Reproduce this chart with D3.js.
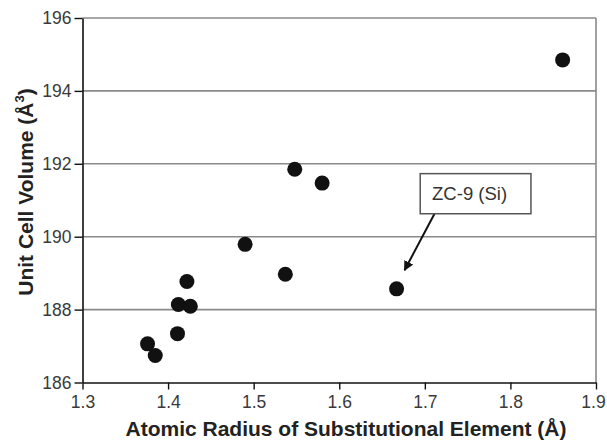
<!DOCTYPE html>
<html>
<head>
<meta charset="utf-8">
<script src="https://cdn.jsdelivr.net/npm/d3@7"></script>
<style>
  html, body { margin: 0; padding: 0; background: #fff; }
  svg { display: block; font-family: "Liberation Sans", Arial, sans-serif; }
</style>
</head>
<body>
<svg id="chart" width="607" height="443"></svg>
<script>
// ---- data ----
const radius = [1.376, 1.385, 1.411, 1.412, 1.426, 1.422, 1.490, 1.537, 1.548, 1.580, 1.667, 1.861];
const volume = [187.06, 186.74, 187.34, 188.14, 188.09, 188.77, 189.79, 188.97, 191.85, 191.47, 188.57, 194.85];
const xTicks = [1.3, 1.4, 1.5, 1.6, 1.7, 1.8, 1.9];
const yTicks = [186, 188, 190, 192, 194, 196];
const annotationLabel = "ZC-9 (Si)";
const annotationBox = [1.6946, 191.73, 1.824, 190.63]; // x0, y0, x1, y1 in data units
const annotationArrow = [1.7113, 190.63, 1.6763, 189.08]; // from, to in data units

const svg = d3.select("#chart");
const mLeft = 82.5, mRight = 596, mTop = 18, mBottom = 382.5;

const x = d3.scaleLinear().domain([1.3, 1.9]).range([mLeft, mRight]);
const y = d3.scaleLinear().domain([186, 196]).range([mBottom, mTop]);

// gridlines
svg.append("g").selectAll("line").data(yTicks.filter(d => d > 186)).join("line")
  .attr("x1", mLeft).attr("x2", mRight)
  .attr("y1", d => y(d)).attr("y2", d => y(d))
  .attr("stroke", "#8a8a8a").attr("stroke-width", 1.6);

// right border
svg.append("line").attr("x1", mRight).attr("x2", mRight).attr("y1", mTop).attr("y2", mBottom)
  .attr("stroke", "#8a8a8a").attr("stroke-width", 1.6);

// axes
const xAxis = svg.append("g").attr("transform", `translate(0,${mBottom})`)
  .call(d3.axisBottom(x).tickValues(xTicks).tickSize(7).tickSizeOuter(0).tickPadding(6).tickFormat(d3.format(".1f")));
const yAxis = svg.append("g").attr("transform", `translate(${mLeft},0)`)
  .call(d3.axisLeft(y).tickValues(yTicks).tickSize(8).tickSizeOuter(0).tickPadding(3).tickFormat(d3.format("d")));
[xAxis, yAxis].forEach(a => {
  a.select(".domain").attr("stroke", "#111").attr("stroke-width", 1.6);
  a.selectAll(".tick line").attr("stroke", "#111").attr("stroke-width", 1.4);
  a.selectAll(".tick text").attr("fill", "#3a3a3a").attr("font-size", 17.5)
    .attr("font-family", "Liberation Sans, Arial, sans-serif");
});
// keep the last x label inside the page
xAxis.selectAll(".tick text").filter(d => d === xTicks[xTicks.length - 1]).attr("dx", -3);

// points
svg.append("g").selectAll("circle").data(radius.map((r, i) => [r, volume[i]])).join("circle")
  .attr("cx", d => x(d[0])).attr("cy", d => y(d[1])).attr("r", 7.5).attr("fill", "#111");

// annotation
const defs = svg.append("defs");
defs.append("marker").attr("id", "arrow").attr("viewBox", "0 0 10 10")
  .attr("refX", 9).attr("refY", 5).attr("markerWidth", 5).attr("markerHeight", 5)
  .attr("orient", "auto").attr("markerUnits", "strokeWidth")
  .append("path").attr("d", "M0,0 L10,5 L0,10 z").attr("fill", "#111");

svg.append("line")
  .attr("x1", x(annotationArrow[0])).attr("y1", y(annotationArrow[1]))
  .attr("x2", x(annotationArrow[2])).attr("y2", y(annotationArrow[3]))
  .attr("stroke", "#111").attr("stroke-width", 2).attr("marker-end", "url(#arrow)");

svg.append("rect")
  .attr("x", x(annotationBox[0])).attr("y", y(annotationBox[1]))
  .attr("width", x(annotationBox[2]) - x(annotationBox[0]))
  .attr("height", y(annotationBox[3]) - y(annotationBox[1]))
  .attr("fill", "#fff").attr("stroke", "#555").attr("stroke-width", 1.5);
svg.append("text")
  .attr("x", (x(annotationBox[0]) + x(annotationBox[2])) / 2 - 6)
  .attr("y", (y(annotationBox[1]) + y(annotationBox[3])) / 2 + 6.5)
  .attr("text-anchor", "middle").attr("font-size", 18.5).attr("fill", "#333")
  .text(annotationLabel);

// axis titles
svg.append("text").attr("x", 346).attr("y", 436).attr("text-anchor", "middle")
  .attr("font-size", 21).attr("font-weight", "bold").attr("fill", "#222")
  .text("Atomic Radius of Substitutional Element (Å)");

const yt = svg.append("text").attr("transform", `translate(33,192) rotate(-90)`)
  .attr("text-anchor", "middle").attr("font-size", 21).attr("font-weight", "bold").attr("fill", "#222");
yt.append("tspan").text("Unit Cell Volume (Å");
yt.append("tspan").attr("font-size", 13).attr("dy", -9).text("3");
yt.append("tspan").attr("dy", 9).text(")");
</script>
</body>
</html>
